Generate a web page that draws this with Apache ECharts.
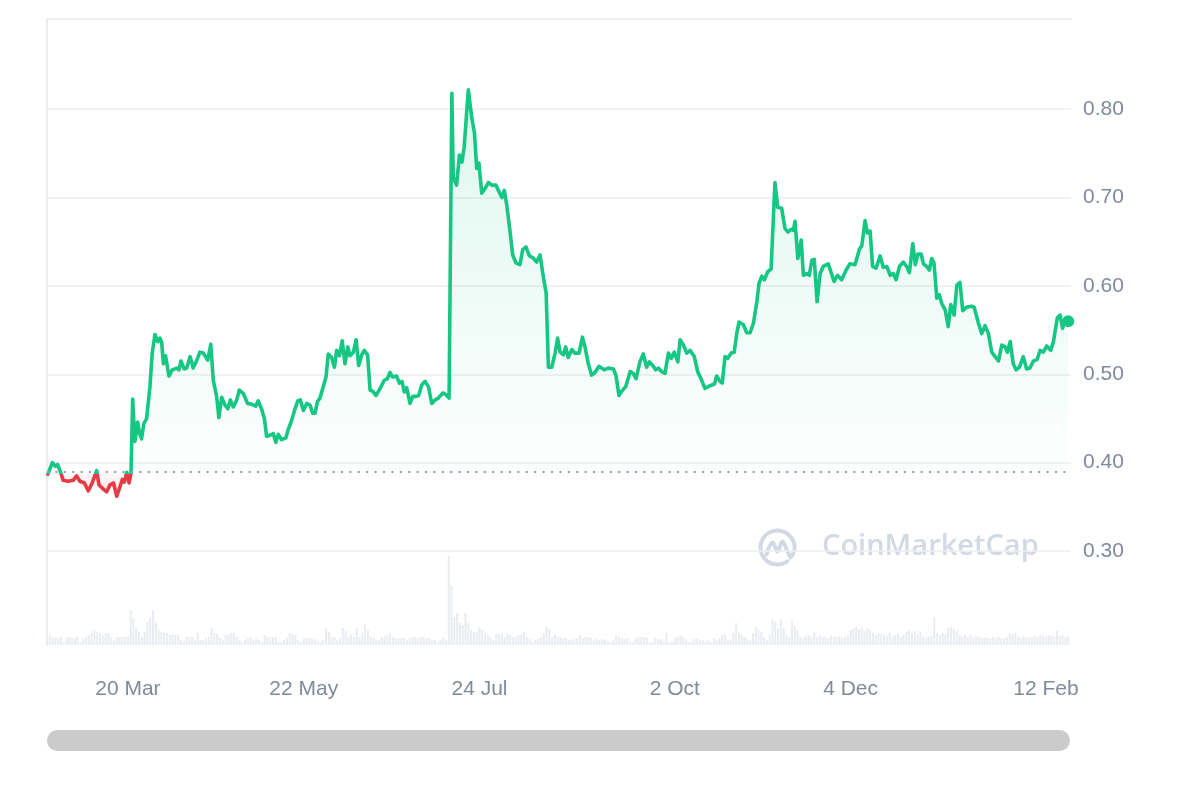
<!DOCTYPE html>
<html>
<head>
<meta charset="utf-8">
<script src="https://cdn.jsdelivr.net/npm/echarts@6/dist/echarts.min.js"></script>
<style>
html,body{margin:0;padding:0;background:#ffffff;}
#chart{width:1200px;height:800px;}
</style>
</head>
<body>
<div id="chart"></div>
<script>
// ---------- data ----------
const startDate = '2023-02-19';
const spanDays = 367;

// price points: day offset from startDate, price in USD
const dayOffsets = [
0.3,1.9,2.9,3.8,5.0,5.8,7.6,9.4,10.6,11.8,13.4,14.8,16.2,17.8,18.6,20.2,21.4,22.6,23.8,25.0,
26.2,27.0,27.7,28.6,29.4,30.1,30.7,31.5,32.5,33.2,33.9,34.7,35.7,36.9,37.7,38.7,39.7,40.5,41.1,41.7,
42.5,43.7,44.9,46.5,47.3,48.0,49.2,50.1,51.3,52.4,53.7,54.8,56.0,57.6,58.7,59.6,60.8,61.6,62.6,63.8,
64.8,65.7,66.8,68.0,68.9,70.4,71.9,73.4,74.8,75.7,77.0,77.9,78.7,79.9,81.1,82.0,82.9,84.1,85.6,86.5,
87.7,88.9,89.9,90.8,91.9,93.1,94.3,95.2,96.1,96.9,97.8,99.0,100.0,100.8,102.0,103.0,103.8,104.8,105.8,106.8,
107.8,108.6,109.8,110.8,111.7,112.8,113.7,114.9,115.8,116.7,117.9,119.4,120.8,122.0,122.9,123.9,125.3,126.3,127.2,128.1,
128.9,130.1,131.1,132.3,133.2,134.3,135.5,136.7,137.9,139.1,140.2,140.9,142.0,143.3,144.1,145.1,145.6,146.8,147.8,148.7,
149.5,151.0,152.2,153.2,154.0,154.8,155.8,157.0,158.2,159.4,160.9,162.1,163.0,163.9,164.8,165.9,166.9,168.1,169.5,170.5,
171.7,172.9,174.1,175.5,176.7,177.9,178.9,179.7,180.9,182.1,183.0,183.9,185.1,185.9,186.8,188.1,189.2,190.7,191.9,192.8,
194.0,195.2,196.4,197.8,199.7,201.2,203.0,203.9,205.0,206.0,207.4,209.0,210.1,211.1,212.5,213.7,214.9,215.9,217.1,218.2,
219.1,220.3,221.5,222.7,223.7,224.8,226.1,226.9,228.1,229.3,230.5,232.0,233.2,234.4,235.8,237.6,239.2,240.0,241.2,242.0,
243.0,244.0,245.2,246.3,247.2,248.0,249.6,250.8,252.0,253.2,254.4,255.2,256.2,257.1,258.3,259.5,260.9,261.9,263.3,264.5,
265.5,266.7,267.5,268.1,269.1,270.3,271.1,272.3,273.2,274.1,275.0,276.0,277.1,278.2,280.0,282.1,283.3,284.8,286.4,287.8,
289.6,291.2,292.0,293.2,294.0,295.0,295.9,297.1,298.6,299.7,301.0,302.2,303.3,304.3,305.5,306.9,308.1,309.1,310.3,311.2,
312.1,313.3,314.1,315.3,316.2,317.1,317.9,318.9,319.8,320.7,321.9,323.0,323.9,325.1,326.1,327.2,328.2,329.6,331.4,332.3,
333.8,335.0,336.2,337.4,338.6,339.8,341.0,342.2,343.4,344.2,345.2,346.3,347.3,348.5,349.9,351.1,352.3,353.5,354.9,355.9,
357.1,358.3,359.7,360.7,362.1,363.1,364.0,364.9,366.0
];
const prices = [
0.387,0.400,0.396,0.398,0.388,0.380,0.379,0.380,0.385,0.379,0.377,0.368,0.377,0.391,0.375,0.370,0.367,0.375,0.377,0.362,
0.373,0.381,0.378,0.389,0.377,0.388,0.472,0.424,0.446,0.433,0.427,0.444,0.450,0.486,0.524,0.545,0.537,0.541,0.536,0.512,
0.521,0.498,0.505,0.507,0.505,0.515,0.506,0.507,0.520,0.507,0.516,0.525,0.524,0.516,0.534,0.493,0.475,0.451,0.474,0.465,
0.461,0.471,0.463,0.471,0.482,0.478,0.467,0.466,0.464,0.470,0.460,0.450,0.430,0.431,0.433,0.423,0.432,0.426,0.428,0.438,
0.448,0.461,0.470,0.471,0.459,0.467,0.465,0.456,0.456,0.469,0.473,0.486,0.497,0.523,0.519,0.508,0.527,0.521,0.538,0.512,
0.531,0.521,0.525,0.539,0.510,0.522,0.527,0.522,0.482,0.481,0.476,0.484,0.493,0.495,0.502,0.497,0.498,0.490,0.492,0.480,
0.485,0.467,0.475,0.475,0.476,0.488,0.492,0.486,0.467,0.471,0.473,0.471,0.479,0.476,0.473,0.818,0.723,0.714,0.748,0.740,
0.757,0.822,0.791,0.773,0.733,0.739,0.705,0.710,0.717,0.714,0.714,0.706,0.700,0.708,0.691,0.663,0.635,0.626,0.624,0.641,
0.644,0.634,0.632,0.627,0.635,0.610,0.592,0.508,0.508,0.524,0.541,0.525,0.522,0.531,0.519,0.528,0.524,0.524,0.542,0.531,
0.512,0.499,0.502,0.509,0.505,0.507,0.506,0.499,0.476,0.481,0.486,0.503,0.501,0.495,0.514,0.523,0.508,0.514,0.510,0.505,
0.507,0.503,0.501,0.524,0.518,0.525,0.514,0.539,0.533,0.524,0.527,0.520,0.503,0.495,0.484,0.487,0.489,0.498,0.492,0.490,
0.520,0.518,0.524,0.525,0.546,0.559,0.556,0.547,0.547,0.558,0.582,0.603,0.611,0.607,0.616,0.619,0.717,0.689,0.688,0.665,
0.661,0.664,0.663,0.673,0.631,0.652,0.612,0.614,0.612,0.629,0.630,0.582,0.614,0.622,0.625,0.605,0.612,0.607,0.618,0.625,
0.624,0.642,0.645,0.674,0.660,0.662,0.622,0.620,0.634,0.621,0.622,0.612,0.614,0.607,0.622,0.627,0.622,0.615,0.648,0.624,
0.636,0.636,0.625,0.622,0.618,0.631,0.626,0.586,0.590,0.580,0.573,0.554,0.579,0.567,0.601,0.604,0.572,0.576,0.577,0.576,
0.558,0.546,0.555,0.546,0.525,0.520,0.515,0.533,0.531,0.525,0.537,0.512,0.505,0.508,0.520,0.506,0.507,0.515,0.517,0.527,
0.525,0.532,0.527,0.537,0.564,0.567,0.552,0.561,0.560
];

// daily traded volume (USD millions), one value per day starting at startDate
const volumes = [
11,10,8,7,7,8,3,8,8,7, 7,8,3,6,8,10,12,15,13,12, 10,12,12,8,5,8,8,8,8,9, 35,27,17,13,8,13,23,27,35,23,
15,13,12,12,10,11,10,10,5,4, 8,8,8,5,12,5,5,7,8,17, 12,11,7,5,10,10,12,12,8,5, 3,5,7,8,5,7,5,3,10,8,
8,8,8,3,3,5,7,12,11,10, 5,3,7,7,7,7,6,4,3,5, 17,13,8,8,5,7,17,14,8,10, 8,17,8,12,21,15,9,7,5,5,
8,9,10,12,8,7,7,7,7,5, 7,8,8,7,8,8,7,7,5,5, 3,5,7,5,89,59,28,32,22,20, 32,23,15,13,13,18,15,12,10,8,
5,11,11,11,8,11,10,8,8,10, 10,13,8,6,3,5,6,8,12,18, 16,8,10,8,8,7,7,5,5,6, 7,10,7,8,8,7,5,6,5,6,
5,4,3,5,10,8,7,6,7,3, 3,7,8,8,8,7,3,3,7,6, 6,4,12,3,3,7,8,10,8,6, 3,3,6,6,5,5,4,5,3,7,
5,7,10,10,5,5,12,22,12,10, 8,6,5,12,18,15,13,8,5,10, 26,23,16,26,17,10,8,24,19,15, 8,7,9,10,8,12,8,10,8,8,
7,9,8,8,9,7,8,10,15,17, 18,16,18,14,17,15,12,10,12,11, 10,9,12,8,10,11,8,10,13,15, 12,14,10,13,8,7,8,9,28,12,
10,12,11,17,18,16,14,10,9,10, 8,10,7,9,8,7,8,7,6,8, 7,8,7,6,8,12,11,12,8,7, 9,8,7,8,9,8,10,9,8,10,
9,8,14,9,10,8,9
];

const tickDates = ['2023-03-20','2023-05-22','2023-07-24','2023-10-02','2023-12-04','2024-02-12'];
const tickLabels = ['20 Mar','22 May','24 Jul','2 Oct','4 Dec','12 Feb'];
const priceTicks = [0.30, 0.40, 0.50, 0.60, 0.70, 0.80];
const priceRange = [0.1937, 0.902];
const volumeAxisMax = 626;

// ---------- build ----------
const DAY = 86400000;
const t0 = Date.parse(startDate + 'T00:00:00Z');
const tickDays = tickDates.map(d => Math.round((Date.parse(d + 'T00:00:00Z') - t0) / DAY));
const priceData = dayOffsets.map((d, i) => [d, prices[i]]);
const volumeData = volumes.map((v, i) => [i, v]);
const openPrice = prices[0];
const lastPoint = priceData[priceData.length - 1];

const GREEN = '#16c784';
const RED = '#ea3943';
const LABEL = '#808a9d';
const LINE = '#eceef1';

const W = 1200, H = 800;
const GRID = {left: 47, right: 129, top: 19, bottom: 155};
const gridH = H - GRID.top - GRID.bottom;
const yPix = v => GRID.top + (priceRange[1] - v) / (priceRange[1] - priceRange[0]) * gridH;

const maxP = Math.max(...prices);
const minP = Math.min(...prices);
const yBase = yPix(openPrice);

// global (pixel) gradients split at the opening-price level
const lineOff = yBase / H;
const lineColor = new echarts.graphic.LinearGradient(0, 0, 0, H, [
  {offset: 0, color: GREEN}, {offset: lineOff, color: GREEN},
  {offset: lineOff, color: RED}, {offset: 1, color: RED}
], true);
const yTop = yPix(maxP), yBot = yPix(minP);
const areaOff = (yBase - yTop) / (yBot - yTop);
const areaColor = new echarts.graphic.LinearGradient(0, yTop, 0, yBot, [
  {offset: 0, color: 'rgba(22,199,132,0.20)'},
  {offset: areaOff, color: 'rgba(22,199,132,0.01)'},
  {offset: areaOff, color: 'rgba(234,57,67,0.04)'},
  {offset: 1, color: 'rgba(234,57,67,0.24)'}
], true);

const chart = echarts.init(document.getElementById('chart'), null, {renderer: 'canvas'});

const option = {
  animation: false,
  backgroundColor: '#ffffff',
  grid: Object.assign({containLabel: false}, GRID),
  xAxis: [{
    type: 'value', min: 0, max: spanDays,
    axisLine: {show: false}, axisTick: {show: false}, splitLine: {show: false},
    axisLabel: {
      customValues: tickDays,
      color: LABEL, fontSize: 21, fontFamily: 'Liberation Sans, Arial, sans-serif', margin: 34,
      formatter: function (v) {
        const i = tickDays.indexOf(Math.round(v));
        return i >= 0 ? tickLabels[i] : '';
      }
    }
  }, {
    type: 'value', position: 'top', min: 0, max: 1,
    axisLine: {show: true, onZero: false, lineStyle: {color: LINE, width: 2}},
    axisTick: {show: false}, axisLabel: {show: false}, splitLine: {show: false}
  }],
  yAxis: [{
    type: 'value', position: 'right', min: priceRange[0], max: priceRange[1],
    axisLine: {show: true, lineStyle: {color: LINE, width: 2}},
    axisTick: {show: false, customValues: priceTicks},
    splitLine: {show: true, lineStyle: {color: LINE, width: 1.5}},
    axisLabel: {
      customValues: priceTicks,
      color: LABEL, fontSize: 21, fontFamily: 'Liberation Sans, Arial, sans-serif', margin: 12,
      formatter: v => v.toFixed(2)
    }
  }, {
    type: 'value', position: 'left', min: 0, max: volumeAxisMax,
    axisLine: {show: true, onZero: false, lineStyle: {color: LINE, width: 2}},
    axisTick: {show: false}, axisLabel: {show: false}, splitLine: {show: false}
  }],
  series: [{
    name: 'Volume', type: 'bar', xAxisIndex: 0, yAxisIndex: 1,
    data: volumeData, barWidth: 2,
    itemStyle: {color: '#e9ecf0'}, silent: true, z: 1
  }, {
    name: 'Price', type: 'line', xAxisIndex: 0, yAxisIndex: 0,
    data: priceData, showSymbol: false, symbol: 'none', smooth: false,
    lineStyle: {width: 3.6, color: lineColor, join: 'round', cap: 'round'},
    itemStyle: {color: GREEN},
    areaStyle: {origin: openPrice, color: areaColor},
    markLine: {
      silent: true, symbol: ['none', 'none'], label: {show: false},
      lineStyle: {color: '#969dab', width: 2, type: [2, 6.4]},
      data: [{yAxis: openPrice}]
    },
    z: 3
  }, {
    name: 'Last', type: 'scatter', xAxisIndex: 0, yAxisIndex: 0,
    data: [lastPoint], symbolSize: 12, itemStyle: {color: GREEN, opacity: 1}, z: 4, silent: true
  }],
  graphic: [
    {
      type: 'group', left: 758, top: 528, z: 0, silent: true,
      children: [
        {type: 'arc', shape: {cx: 20, cy: 20, r: 17, startAngle: Math.PI * 0.3, endAngle: Math.PI * 0.15 + Math.PI * 2, clockwise: true},
         style: {stroke: '#d2d9e4', lineWidth: 4, fill: null, lineCap: 'round'}},
        {type: 'polyline', shape: {points: [[9, 27], [15, 15], [20, 24], [25, 14], [30, 24], [33, 30]], smooth: 0.4},
         style: {stroke: '#d2d9e4', lineWidth: 4, fill: null, lineCap: 'round', lineJoin: 'round'}}
      ]
    },
    {
      type: 'text', left: 822, top: 532, z: 0, silent: true,
      style: {text: 'CoinMarketCap', fill: '#d2d9e4', font: '600 29px "Open Sans", "Noto Sans", sans-serif'}
    },
    {
      type: 'rect', left: 47, top: 730, z: 0, silent: true,
      shape: {width: 1023, height: 21, r: 10.5},
      style: {fill: '#cbcbcb'}
    }
  ]
};
chart.setOption(option);
</script>
</body>
</html>
